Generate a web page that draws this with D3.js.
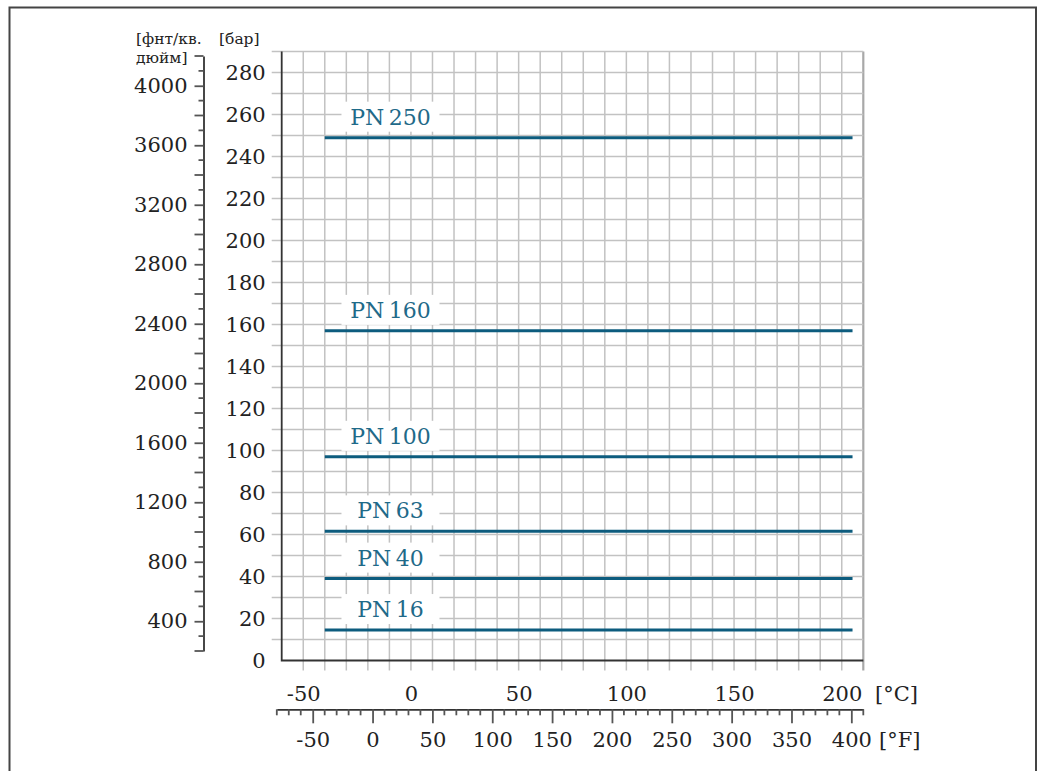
<!DOCTYPE html>
<html>
<head>
<meta charset="utf-8">
<script src="https://cdn.jsdelivr.net/npm/d3@7"></script>
<style>
  body { margin: 0; background: #fff; }
  svg text { font-family: 'DejaVu Serif', serif; fill: #222; }
  .pn-label { fill: #1f6a89; }
</style>
</head>
<body>
<svg id="chart" width="1043" height="771"></svg>
<script>
// pressure ratings and the height (bar) their lines are drawn at
const pnNames = ['PN\u2009250', 'PN\u2009160', 'PN\u2009100', 'PN\u200963', 'PN\u200940', 'PN\u200916'];
const pnBar = [249, 157, 97, 61.5, 39, 14.5];
// temperature span of every rating line (°C)
const lineFromC = [-40, -40, -40, -40, -40, -40];
const lineToC = [205, 205, 205, 205, 205, 205];

// tick labels
const barTicks = [0, 20, 40, 60, 80, 100, 120, 140, 160, 180, 200, 220, 240, 260, 280];
const psiTicks = [400, 800, 1200, 1600, 2000, 2400, 2800, 3200, 3600, 4000];
const celsiusTicks = [-50, 0, 50, 100, 150, 200];
const fahrenheitTicks = [-50, 0, 50, 100, 150, 200, 250, 300, 350, 400];

// plain numbers: no thousands comma, ascii hyphen for negatives
const plain = d => String(d);

class PressureChart {
  constructor(_config) {
    this.config = {
      parentElement: _config.parentElement,
      margin: { top: 51.6, left: 281.7 },
      width: 581.6,
      height: 608.9,
      gridColor: '#c2c2c2',
      axisColor: '#333',
      lineColor: '#0d5c7e',
      fontSize: 21,
    };
    this.initVis();
  }

  initVis() {
    let vis = this;
    const c = vis.config;

    vis.svg = d3.select(c.parentElement);

    // outer frame, runs off the bottom of the page
    vis.svg.append('rect')
      .attr('x', 9.5).attr('y', 7.5)
      .attr('width', 1026.5).attr('height', 820)
      .attr('fill', 'none')
      .attr('stroke', '#444')
      .attr('stroke-width', 2);

    vis.x = d3.scaleLinear().domain([-60, 210]).range([c.margin.left, c.margin.left + c.width]);
    vis.y = d3.scaleLinear().domain([0, 290]).range([c.margin.top + c.height, c.margin.top]);
    vis.yPsi = d3.scaleLinear().domain([200, 4200]).range([651, 56]);
    vis.xF = d3.scaleLinear().domain([-80, 410]).range([276.8, c.margin.left + c.width]);

    vis.renderVis();
  }

  renderVis() {
    let vis = this;
    const c = vis.config;
    const x = vis.x, y = vis.y;
    const bottom = y(0);

    // grid
    const grid = vis.svg.append('g')
      .attr('stroke', c.gridColor)
      .attr('stroke-width', 1.5);

    grid.selectAll('.vgrid')
      .data(d3.range(-50, 211, 10))
      .join('line')
      .attr('class', 'vgrid')
      .attr('x1', d => x(d)).attr('x2', d => x(d))
      .attr('y1', y(290)).attr('y2', bottom + 10)
      .attr('stroke-width', d => d === 210 ? 2.2 : 1.5)
      .attr('stroke', d => d === 210 ? '#a8a8a8' : c.gridColor);

    grid.selectAll('.hgrid')
      .data(d3.range(10, 291, 10))
      .join('line')
      .attr('class', 'hgrid')
      .attr('x1', x(-60) - 10).attr('x2', x(210))
      .attr('y1', d => y(d)).attr('y2', d => y(d));

    // main axes lines
    vis.svg.append('path')
      .attr('d', `M${x(-60)},${y(290)}V${bottom}H${x(210)}`)
      .attr('fill', 'none')
      .attr('stroke', c.axisColor)
      .attr('stroke-width', 1.8);

    // bar tick labels
    const barAxis = vis.svg.append('g')
      .attr('transform', `translate(${x(-60)},0)`)
      .call(d3.axisLeft(y).tickValues(barTicks).tickFormat(plain).tickSize(0).tickPadding(16));
    barAxis.select('.domain').remove();
    barAxis.selectAll('text').attr('font-size', c.fontSize).attr('font-family', null);

    // psi axis
    const psiX = 203.5;
    const psiAxis = vis.svg.append('g')
      .attr('transform', `translate(${psiX},0)`)
      .call(d3.axisLeft(vis.yPsi).tickValues(psiTicks).tickFormat(plain)
        .tickSize(9).tickSizeOuter(0).tickPadding(7));
    psiAxis.select('.domain').attr('stroke', c.axisColor).attr('stroke-width', 1.8);
    psiAxis.selectAll('.tick line').attr('stroke', '#555').attr('stroke-width', 1.8);
    psiAxis.selectAll('text').attr('font-size', c.fontSize).attr('font-family', null);
    psiAxis.selectAll('.minor')
      .data(d3.range(200, 4201, 100).filter(d => psiTicks.indexOf(d) < 0))
      .join('line')
      .attr('class', 'minor')
      .attr('x1', d => d % 200 === 0 ? -9 : -5).attr('x2', 0)
      .attr('y1', d => vis.yPsi(d)).attr('y2', d => vis.yPsi(d))
      .attr('stroke', '#555')
      .attr('stroke-width', 1.8);

    // unit titles on the left
    vis.svg.append('text').attr('x', 136).attr('y', 44).attr('font-size', 15.5).text('[фнт/кв.');
    vis.svg.append('text').attr('x', 136).attr('y', 63).attr('font-size', 15.5).text('дюйм]');
    vis.svg.append('text').attr('x', 219).attr('y', 44).attr('font-size', 15.5).text('[бар]');

    // °C labels
    const cAxis = vis.svg.append('g')
      .attr('transform', `translate(0,${bottom})`)
      .call(d3.axisBottom(x).tickValues(celsiusTicks).tickFormat(plain).tickSize(0).tickPadding(25.3));
    cAxis.select('.domain').remove();
    cAxis.selectAll('text').attr('font-size', c.fontSize).attr('font-family', null);
    vis.svg.append('text').attr('x', 875).attr('y', 701).attr('font-size', c.fontSize).text('[°C]');

    // °F axis
    const fY = 709.3;
    const fAxis = vis.svg.append('g')
      .attr('transform', `translate(0,${fY})`)
      .call(d3.axisBottom(vis.xF).tickValues(fahrenheitTicks).tickFormat(plain)
        .tickSize(14).tickSizeOuter(0).tickPadding(8.8));
    fAxis.select('.domain').attr('stroke', c.axisColor).attr('stroke-width', 1.8);
    fAxis.selectAll('.tick line').attr('stroke', '#555').attr('stroke-width', 1.8);
    fAxis.selectAll('text').attr('font-size', c.fontSize).attr('font-family', null);
    fAxis.selectAll('.minor')
      .data(d3.range(-80, 411, 10).filter(d => fahrenheitTicks.indexOf(d) < 0))
      .join('line')
      .attr('class', 'minor')
      .attr('x1', d => vis.xF(d)).attr('x2', d => vis.xF(d))
      .attr('y1', 0).attr('y2', 6)
      .attr('stroke', '#555')
      .attr('stroke-width', 1.8);
    vis.svg.append('text').attr('x', 879).attr('y', 747).attr('font-size', c.fontSize).text('[°F]');

    // rating lines and labels
    const pn = pnNames.map((name, i) => ({ name, bar: pnBar[i], from: lineFromC[i], to: lineToC[i] }));
    const labelX = x(-9.5);

    const rows = vis.svg.selectAll('.pn')
      .data(pn)
      .join('g')
      .attr('class', 'pn');

    rows.append('line')
      .attr('x1', d => x(d.from)).attr('x2', d => x(d.to))
      .attr('y1', d => y(d.bar)).attr('y2', d => y(d.bar))
      .attr('stroke', c.lineColor)
      .attr('stroke-width', 3);

    rows.append('rect')
      .attr('x', labelX - 49).attr('width', 98)
      .attr('y', d => y(d.bar) - 21 - 15).attr('height', 30)
      .attr('fill', '#fff');

    rows.append('text')
      .attr('class', 'pn-label')
      .attr('x', labelX)
      .attr('y', d => y(d.bar) - 21)
      .attr('dy', '0.36em')
      .attr('text-anchor', 'middle')
      .attr('font-size', 22)
      .text(d => d.name);
  }
}

new PressureChart({ parentElement: '#chart' });
</script>
</body>
</html>
